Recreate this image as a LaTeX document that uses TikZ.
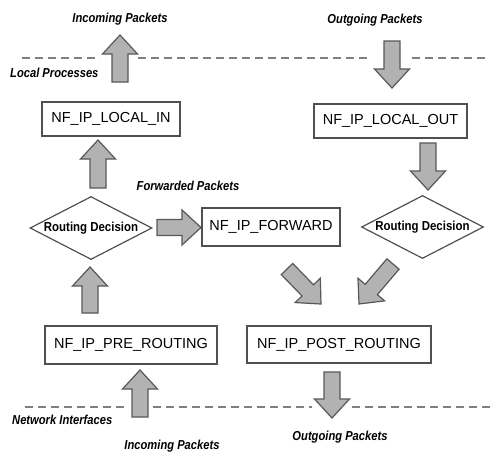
\documentclass[tikz,border=0pt]{standalone}
\usepackage{fontspec}
\setmainfont{Liberation Sans}
\newfontfamily\narrowfont[FakeStretch=0.86]{Liberation Sans}
\newfontfamily\decfont[FakeStretch=0.88]{Liberation Sans}
\usetikzlibrary{shapes.geometric}

\definecolor{arrowfill}{RGB}{178,178,178}
\definecolor{arrowline}{RGB}{88,88,88}
\definecolor{boxline}{RGB}{80,80,80}
\definecolor{dashgrey}{RGB}{128,128,128}

% wide grey block arrow from one named coordinate (tail) to another (tip)
\newcommand\bashaft{8pt}
\newcommand\bawing{17.5pt}
\newcommand\bahead{19pt}
\newcommand\blockarrow[2]{%
  \pgfpointdiff{\pgfpointanchor{#1}{center}}{\pgfpointanchor{#2}{center}}%
  \pgfgetlastxy{\badx}{\bady}%
  \pgfmathveclen{\badx}{\bady}\edef\balen{\pgfmathresult}%
  \pgfmathanglebetweenpoints{\pgfpointanchor{#1}{center}}{\pgfpointanchor{#2}{center}}%
  \edef\baang{\pgfmathresult}%
  \begin{scope}[shift={(#1)}, rotate=\baang]
    \filldraw[blockarrow] (0pt,-\bashaft) -- (\balen pt-\bahead,-\bashaft)
      -- (\balen pt-\bahead,-\bawing) -- (\balen pt,0pt)
      -- (\balen pt-\bahead,\bawing) -- (\balen pt-\bahead,\bashaft)
      -- (0pt,\bashaft) -- cycle;
  \end{scope}}

\begin{document}
\begin{tikzpicture}[x=1pt, y=-1pt,
  hook/.style={draw=boxline, line width=1.4pt, fill=white, inner sep=0pt,
    font=\fontsize{14.5}{16}\selectfont},
  decision/.style={diamond, draw=boxline, line width=1.2pt, fill=white,
    minimum width=122pt, minimum height=63pt, inner sep=0pt, shape aspect=1.94,
    font=\decfont\bfseries\fontsize{13}{15}\selectfont},
  tag/.style={inner sep=0pt, font=\narrowfont\bfseries\itshape\fontsize{13}{15}\selectfont},
  blockarrow/.style={fill=arrowfill, draw=arrowline, line width=1.2pt, line join=miter},
  layer/.style={draw=dashgrey, line width=1.8pt, dash pattern=on 8pt off 5pt}]
\useasboundingbox (0,0) rectangle (490,456);

% layer boundaries
\coordinate (t0) at (22,58);  \coordinate (t1) at (100,58);
\coordinate (t2) at (138,58); \coordinate (t3) at (370,58);
\coordinate (t4) at (412,58); \coordinate (t5) at (490,58);
\coordinate (b0) at (25,407); \coordinate (b1) at (125,407);
\coordinate (b2) at (153,407); \coordinate (b3) at (312,407);
\coordinate (b4) at (352,407); \coordinate (b5) at (490,407);
\draw[layer] (t0) -- (t1) (t2) -- (t3) (t4) -- (t5);
\draw[layer] (b0) -- (b1) (b2) -- (b3) (b4) -- (b5);

% labels
\node[tag] (intop) at (120,19) {Incoming Packets};
\node[tag] (outtop) at (375,20) {Outgoing Packets};
\node[tag, anchor=west] (local) at (10,73) {Local Processes};
\node[tag] (fwd) at (188,186) {Forwarded Packets};
\node[tag, anchor=west] (netif) at (12,420) {Network Interfaces};
\node[tag] (inbot) at (172,446) {Incoming Packets};
\node[tag] (outbot) at (340,437) {Outgoing Packets};

% netfilter hooks
\node[hook, minimum width=138pt, minimum height=34pt] (localin) at (111,119) {NF\_IP\_LOCAL\_IN};
\node[hook, minimum width=153pt, minimum height=34pt] (localout) at (390.5,121) {NF\_IP\_LOCAL\_OUT};
\node[hook, minimum width=138pt, minimum height=38pt] (forward) at (271,227) {NF\_IP\_FORWARD};
\node[hook, minimum width=172pt, minimum height=38pt] (prerouting) at (131,345) {NF\_IP\_PRE\_ROUTING};
\node[hook, minimum width=184pt, minimum height=37pt] (postrouting) at (339,344.5) {NF\_IP\_POST\_ROUTING};

% routing decisions
\node[decision] (rdin) at (91,228) {Routing Decision};
\node[decision] (rdout) at (422.5,227) {Routing Decision};

% packet flow arrows (tail, tip)
\coordinate (a1s) at (120,82);    \coordinate (a1e) at (120,35);
\coordinate (a2s) at (98,188);    \coordinate (a2e) at (98,140);
\coordinate (a3s) at (90,313);    \coordinate (a3e) at (90,267);
\coordinate (a4s) at (140,417);   \coordinate (a4e) at (140,370);
\coordinate (a5s) at (392,41);    \coordinate (a5e) at (392,88);
\coordinate (a6s) at (428,143);   \coordinate (a6e) at (428,190);
\coordinate (a7s) at (157,227.5); \coordinate (a7e) at (201,227.5);
\coordinate (a8s) at (287,269);   \coordinate (a8e) at (321,304);
\coordinate (a9s) at (393,264);   \coordinate (a9e) at (359,304);
\coordinate (a10s) at (332,372);  \coordinate (a10e) at (332,418);
\blockarrow{a1s}{a1e}
\blockarrow{a2s}{a2e}
\blockarrow{a3s}{a3e}
\blockarrow{a4s}{a4e}
\blockarrow{a5s}{a5e}
\blockarrow{a6s}{a6e}
\blockarrow{a7s}{a7e}
\blockarrow{a8s}{a8e}
\blockarrow{a9s}{a9e}
\blockarrow{a10s}{a10e}
\end{tikzpicture}
\end{document}
